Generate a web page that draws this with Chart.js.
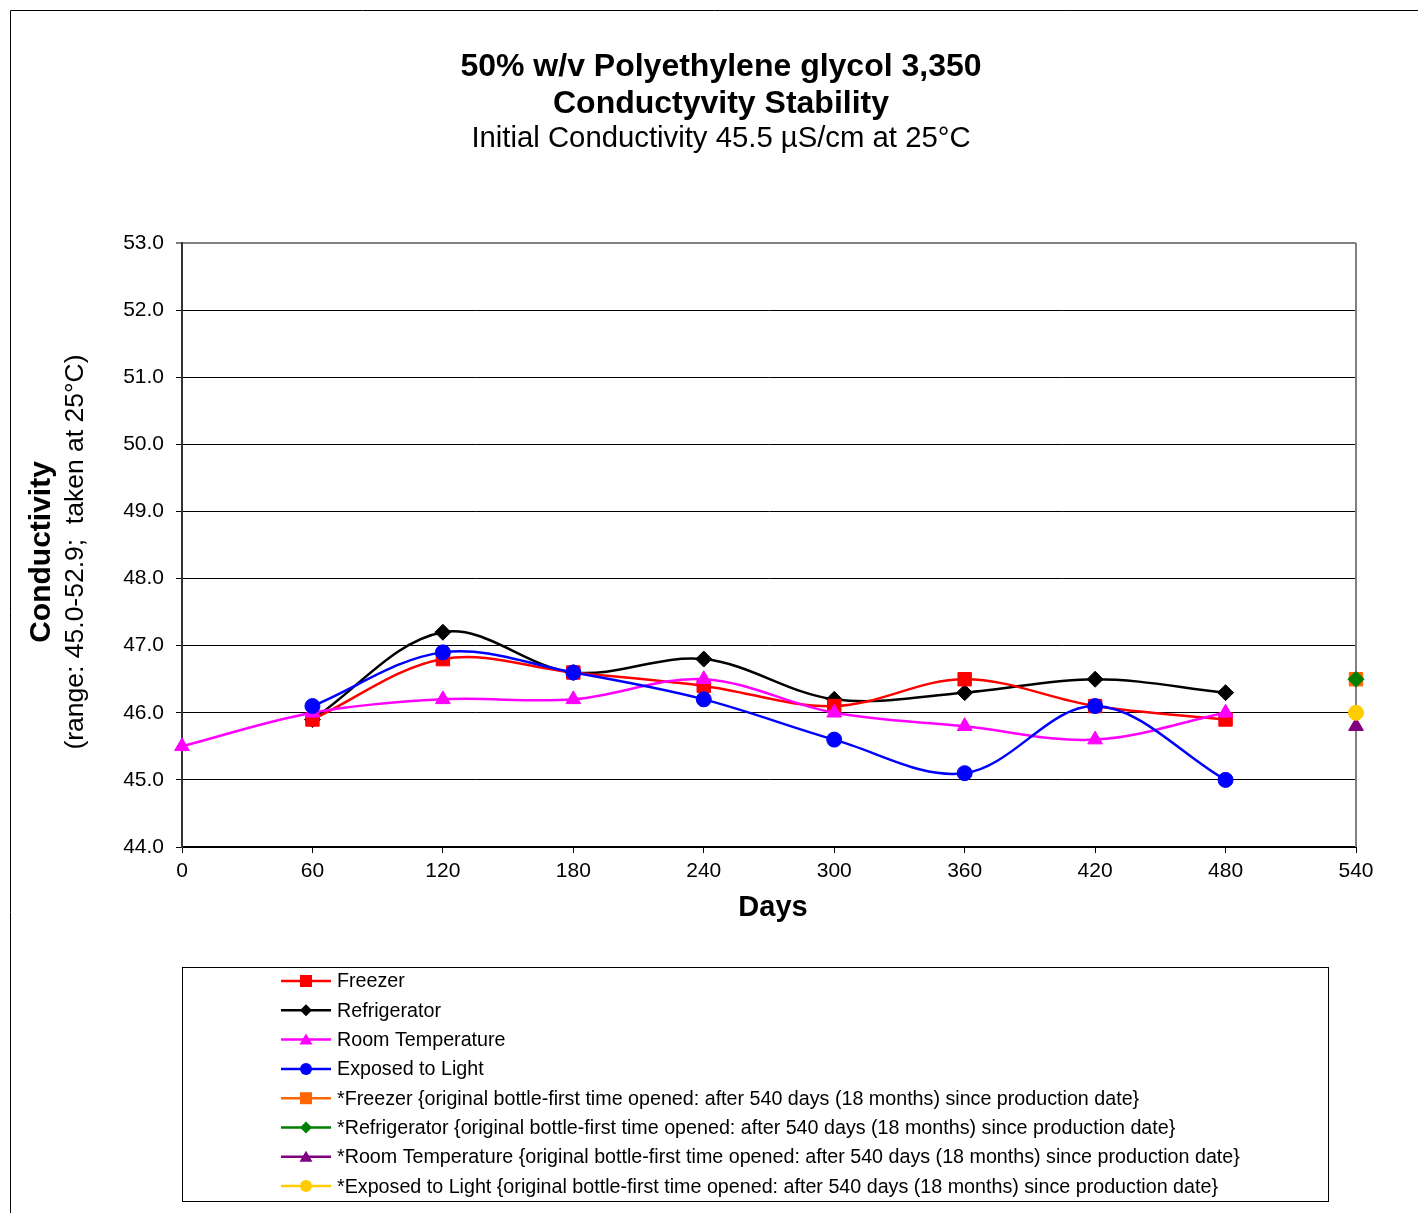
<!DOCTYPE html>
<html>
<head>
<meta charset="utf-8">
<script src="https://cdn.jsdelivr.net/npm/chart.js@4/dist/chart.umd.min.js"></script>
<style>
html,body{margin:0;padding:0;background:#fff;}
canvas{display:block;}
</style>
</head>
<body>
<canvas id="c" width="1418" height="1213"></canvas>
<script>
const days = [0, 60, 120, 180, 240, 300, 360, 420, 480];
const freezer = [null, 45.9, 46.8, 46.6, 46.4, 46.1, 46.5, 46.1, 45.9];
const refrigerator = [null, 45.9, 47.2, 46.6, 46.8, 46.2, 46.3, 46.5, 46.3];
const roomTemp = [45.5, 46.0, 46.2, 46.2, 46.5, 46.0, 45.8, 45.6, 46.0];
const light = [null, 46.1, 46.9, 46.6, 46.2, 45.6, 45.1, 46.1, 45.0];
const origDay = [540];
const origFreezer = [46.5];
const origRefrigerator = [46.5];
const origRoomTemp = [45.8];
const origLight = [46.0];
const yTicks = [44, 45, 46, 47, 48, 49, 50, 51, 52, 53];
const xTicks = [0, 60, 120, 180, 240, 300, 360, 420, 480, 540];

const titleLines = ['50% w/v Polyethylene glycol 3,350', 'Conductyvity Stability'];
const subtitle = 'Initial Conductivity 45.5 \u00B5S/cm at 25\u00B0C';
const yTitle1 = 'Conductivity';
const yTitle2 = '(range: 45.0-52.9;  taken at 25\u00B0C)';
const xTitle = 'Days';

function pts(xs, ys) {
  const out = [];
  xs.forEach((x, i) => { if (ys[i] !== null && ys[i] !== undefined) out.push({x: x, y: ys[i]}); });
  return out;
}

const FONT = "'Liberation Sans', Arial, sans-serif";

function ds(label, xs, ys, color, style, r, order) {
  return {
    label: label,
    data: pts(xs, ys),
    borderColor: color,
    backgroundColor: color,
    pointBackgroundColor: color,
    pointBorderColor: color,
    pointStyle: style,
    pointRadius: r,
    pointHoverRadius: r,
    pointBorderWidth: 1,
    borderWidth: 2.5,
    tension: 0.35,
    fill: false,
    clip: false,
    order: order
  };
}

const datasets = [
  ds('Freezer', days, freezer, '#FF0000', 'rect', 9.5, 10),
  ds('Refrigerator', days, refrigerator, '#000000', 'rectRot', 8, 11),
  ds('Room Temperature', days, roomTemp, '#FF00FF', 'triangle', 8.5, 9),
  ds('Exposed to Light', days, light, '#0000FF', 'circle', 7.5, 8),
  ds('*Freezer {original bottle-first time opened: after 540 days (18 months) since production date}', origDay, origFreezer, '#FF6600', 'rect', 9.5, 7),
  ds('*Refrigerator {original bottle-first time opened: after 540 days (18 months) since production date}', origDay, origRefrigerator, '#008000', 'rectRot', 8, 6),
  ds('*Room Temperature {original bottle-first time opened: after 540 days (18 months) since production date}', origDay, origRoomTemp, '#800080', 'triangle', 8.5, 5),
  ds('*Exposed to Light {original bottle-first time opened: after 540 days (18 months) since production date}', origDay, origLight, '#FFCC00', 'circle', 7.5, 4)
];

const decor = {
  id: 'decor',
  beforeDraw(chart) {
    const c = chart.ctx;
    c.save();
    c.fillStyle = '#fff';
    c.fillRect(0, 0, chart.width, chart.height);
    c.strokeStyle = '#000';
    c.lineWidth = 1;
    c.beginPath();
    c.moveTo(10.5, 1213); c.lineTo(10.5, 10.5); c.lineTo(1418, 10.5);
    c.stroke();
    c.restore();
  },
  beforeDatasetsDraw(chart) {
    const c = chart.ctx;
    const a = chart.chartArea;
    c.save();
    c.strokeStyle = '#808080';
    c.lineWidth = 2;
    c.beginPath();
    c.moveTo(a.right, a.top); c.lineTo(a.right, a.bottom);
    c.stroke();
    c.restore();
  },
  afterDraw(chart) {
    const c = chart.ctx;
    c.save();
    c.fillStyle = '#000';
    c.textAlign = 'center';
    c.textBaseline = 'middle';
    c.font = 'bold 32px ' + FONT;
    c.fillText(titleLines[0], 721, 67);
    c.fillText(titleLines[1], 721, 104);
    c.font = '29.3px ' + FONT;
    c.fillText(subtitle, 721, 139);
    c.font = 'bold 29px ' + FONT;
    c.fillText(xTitle, 773, 908);
    c.save();
    c.translate(42, 552);
    c.rotate(-Math.PI / 2);
    c.font = 'bold 30px ' + FONT;
    c.fillText(yTitle1, 0, 0);
    c.restore();
    c.save();
    c.translate(76, 552);
    c.rotate(-Math.PI / 2);
    c.font = '26.5px ' + FONT;
    c.fillText(yTitle2, 0, 0);
    c.restore();

    const lx = 182.5, ly = 967.5, lw = 1146, lh = 234;
    c.strokeStyle = '#000';
    c.lineWidth = 1;
    c.strokeRect(lx, ly, lw, lh);
    c.textAlign = 'left';
    c.font = '19.7px ' + FONT;
    chart.data.datasets.forEach((d, i) => {
      const y = 981 + i * 29.3;
      c.strokeStyle = d.borderColor;
      c.lineWidth = 2.5;
      c.beginPath();
      c.moveTo(281, y); c.lineTo(331, y);
      c.stroke();
      c.fillStyle = d.borderColor;
      const cx = 306;
      if (d.pointStyle === 'rect') {
        c.fillRect(cx - 6, y - 6, 12, 12);
      } else if (d.pointStyle === 'rectRot') {
        c.beginPath();
        c.moveTo(cx, y - 6); c.lineTo(cx + 6, y); c.lineTo(cx, y + 6); c.lineTo(cx - 6, y);
        c.closePath(); c.fill();
      } else if (d.pointStyle === 'triangle') {
        c.beginPath();
        c.moveTo(cx, y - 6); c.lineTo(cx + 6.5, y + 5); c.lineTo(cx - 6.5, y + 5);
        c.closePath(); c.fill();
      } else {
        c.beginPath();
        c.arc(cx, y, 6, 0, Math.PI * 2);
        c.fill();
      }
      c.fillStyle = '#000';
      c.fillText(d.label, 337, y + 1);
    });
    c.restore();
  }
};

new Chart(document.getElementById('c'), {
  type: 'line',
  data: { datasets: datasets },
  options: {
    responsive: false,
    animation: false,
    devicePixelRatio: 1,
    layout: { padding: { left: 0, right: 62, top: 243, bottom: 0 } },
    plugins: {
      legend: { display: false },
      title: { display: false },
      tooltip: { enabled: false }
    },
    scales: {
      x: {
        type: 'linear',
        min: 0, max: 540,
        afterBuildTicks(s) { s.ticks = xTicks.map(v => ({value: v})); },
        afterFit(s) { s.height = 1213 - 847; },
        ticks: { color: '#000', font: { family: FONT, size: 21 }, padding: 6, maxRotation: 0, autoSkip: false },
        grid: { display: true, drawOnChartArea: false, drawTicks: true, tickLength: 6, color: '#000', lineWidth: 1 },
        border: { display: true, color: '#000', width: 2 }
      },
      y: {
        min: 44, max: 53,
        afterBuildTicks(s) { s.ticks = yTicks.map(v => ({value: v})); },
        afterFit(s) { s.width = 182; },
        ticks: { color: '#000', font: { family: FONT, size: 21 }, padding: 12, callback: v => Number(v).toFixed(1) },
        grid: {
          display: true, drawOnChartArea: true, drawTicks: true, tickLength: 6,
          color: ctx => (ctx.tick && ctx.tick.value === 53) ? '#808080' : '#000',
          lineWidth: ctx => (ctx.tick && ctx.tick.value === 53) ? 2 : 1
        },
        border: { display: true, color: '#333', width: 2 }
      }
    }
  },
  plugins: [decor]
});
</script>
</body>
</html>
